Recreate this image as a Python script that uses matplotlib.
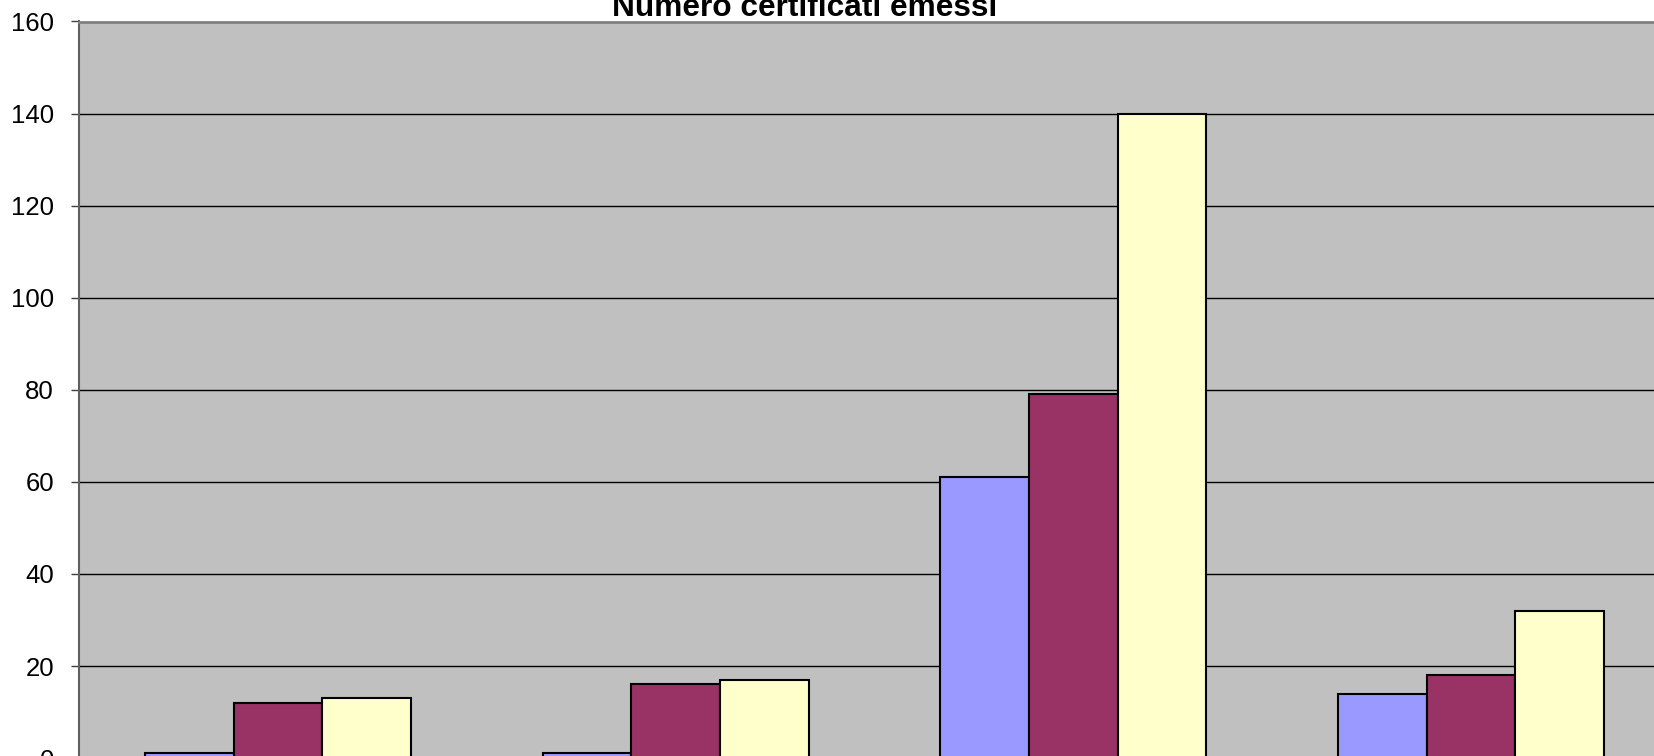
import matplotlib
matplotlib.use('Agg')
import matplotlib.pyplot as plt
import numpy as np

# data
categories = ['1', '2', '3', '4']
serie_1 = [1, 1, 61, 14]
serie_2 = [12, 16, 79, 18]
serie_3 = [13, 17, 140, 32]
colori = ['#9999FF', '#993366', '#FFFFCC']
y_ticks = [0, 20, 40, 60, 80, 100, 120, 140, 160]

plt.rcParams['font.family'] = ['Liberation Sans', 'DejaVu Sans']

W, H = 1654, 756
fig = plt.figure(figsize=(W / 100, H / 100), dpi=100, facecolor='white')

# plot area runs past the right and bottom edge of the image (cropped chart)
left, top, width, height = 79, 21.5, 1591, 736.6
ax = fig.add_axes([left / W, (H - top - height) / H, width / W, height / H])
ax.set_facecolor('#C0C0C0')

x = np.arange(len(categories))
bw = 88.6 / 397.7
for i, vals in enumerate([serie_1, serie_2, serie_3]):
    ax.bar(x + (i - 1) * bw, vals, width=bw, color=colori[i],
           edgecolor='black', linewidth=1.5, zorder=3)

ax.set_xlim(-0.5, len(categories) - 0.5)
ax.set_ylim(0, 160)
ax.set_yticks(y_ticks)
ax.set_yticklabels([str(t) for t in y_ticks], fontsize=18.5)
ax.set_xticks([])
ax.yaxis.grid(True, color='black', linewidth=1, zorder=1)
ax.set_axisbelow(True)
ax.tick_params(axis='y', length=6, width=1, color='#404040', pad=12)

for s in ['right', 'bottom']:
    ax.spines[s].set_visible(False)
ax.spines['top'].set_color('#808080')
ax.spines['top'].set_linewidth(2)
ax.spines['left'].set_color('#606060')
ax.spines['left'].set_linewidth(1.5)

fig.text(805 / W, 1 - 16 / H, 'Numero certificati emessi', ha='center',
         va='baseline', fontsize=22.8, fontweight='bold')

fig.savefig('out.png', dpi=100, facecolor='white')
